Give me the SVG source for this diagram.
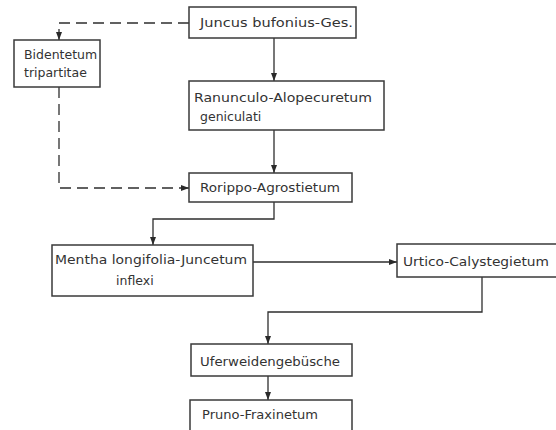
<svg xmlns="http://www.w3.org/2000/svg" width="556" height="430" viewBox="0 0 556 430">
  <defs>
    <marker id="arrow" viewBox="0 0 8 6" refX="8" refY="3" markerWidth="8" markerHeight="6" markerUnits="userSpaceOnUse" orient="auto">
      <path d="M0,0 L8,3 L0,6 z" fill="#2a2a2a"/>
    </marker>
  </defs>
  <style>
    .box { fill: #ffffff; stroke: #3a3a3a; stroke-width: 1.5; }
    .label { font-family: "DejaVu Sans", "Liberation Sans", sans-serif; font-size: 12.5px; fill: #333333; }
    .link { fill: none; stroke: #2e2e2e; stroke-width: 1.3; marker-end: url(#arrow); }
    .dashed { stroke-dasharray: 11 6; }
  </style>
  <rect width="556" height="430" fill="#ffffff"/>

  <g id="connectors">
    <path class="link" d="M274,38 V81"/>
    <path class="link" d="M274,130 V173"/>
    <path class="link dashed" d="M189,23 H59 V40"/>
    <path class="link dashed" d="M59,87 V188 H189"/>
    <path class="link" d="M274,202 V219 H153 V245"/>
    <path class="link" d="M253,262 H397"/>
    <path class="link" d="M482,277 V312 H268 V344"/>
    <path class="link" d="M268,376 V400"/>
  </g>

  <g id="juncus">
    <rect class="box" x="189" y="7" width="167" height="31"/>
    <text class="label" x="200" y="27" textLength="153" lengthAdjust="spacingAndGlyphs">Juncus bufonius-Ges.</text>
  </g>

  <g id="bidentetum">
    <rect class="box" x="14" y="40" width="86" height="47"/>
    <text class="label" x="24" y="59">Bidentetum</text>
    <text class="label" x="24" y="77">tripartitae</text>
  </g>

  <g id="ranunculo">
    <rect class="box" x="189" y="81" width="195" height="49"/>
    <text class="label" x="194" y="102" textLength="178" lengthAdjust="spacingAndGlyphs">Ranunculo-Alopecuretum</text>
    <text class="label" x="200" y="121">geniculati</text>
  </g>

  <g id="rorippo">
    <rect class="box" x="189" y="173" width="163" height="29"/>
    <text class="label" x="200" y="192" textLength="140" lengthAdjust="spacingAndGlyphs">Rorippo-Agrostietum</text>
  </g>

  <g id="mentha">
    <rect class="box" x="52" y="245" width="201" height="51"/>
    <text class="label" x="55" y="264" textLength="192" lengthAdjust="spacingAndGlyphs">Mentha longifolia-Juncetum</text>
    <text class="label" x="116" y="285">inflexi</text>
  </g>

  <g id="urtico">
    <rect class="box" x="397" y="244" width="165" height="33"/>
    <text class="label" x="403" y="266" textLength="146" lengthAdjust="spacingAndGlyphs">Urtico-Calystegietum</text>
  </g>

  <g id="uferweiden">
    <rect class="box" x="191" y="344" width="161" height="32"/>
    <text class="label" x="200" y="366" textLength="140" lengthAdjust="spacingAndGlyphs">Uferweidengebüsche</text>
  </g>

  <g id="pruno">
    <rect class="box" x="190" y="400" width="162" height="34"/>
    <text class="label" x="202" y="419" textLength="116" lengthAdjust="spacingAndGlyphs">Pruno-Fraxinetum</text>
  </g>
</svg>
